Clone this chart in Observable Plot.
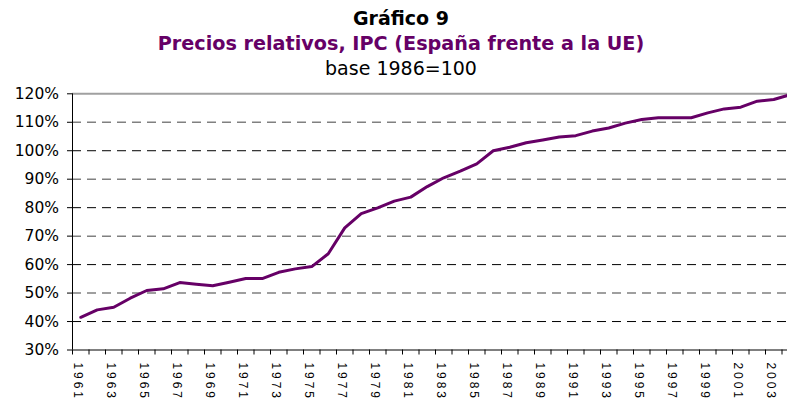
<!DOCTYPE html>
<html>
<head>
<meta charset="utf-8">
<script src="https://cdn.jsdelivr.net/npm/d3@7"></script>
<script src="https://cdn.jsdelivr.net/npm/@observablehq/plot@0.6"></script>
<style>
  html, body { margin: 0; padding: 0; background: #fff; }
  #wrap { position: relative; width: 787px; height: 403px; overflow: hidden; background: #fff; }
  .hdr { position: absolute; left: 7.5px; width: 787px; text-align: center; font-family: "DejaVu Sans", sans-serif; white-space: nowrap; line-height: 26px; }
  #t1 { top: 5px; font-size: 19px; font-weight: bold; color: #000; }
  #t2 { top: 31px; font-size: 19.2px; font-weight: bold; color: #660066; }
  #t3 { top: 55px; font-size: 19px; color: #000; }
  #chart { position: absolute; left: 0; top: 80px; width: 787px; height: 323px; overflow: hidden; }
</style>
</head>
<body>
<div id="wrap">
  <div class="hdr" id="t1">Gráfico 9</div>
  <div class="hdr" id="t2">Precios relativos, IPC (España frente a la UE)</div>
  <div class="hdr" id="t3">base 1986=100</div>
  <div id="chart"></div>
</div>
<script>
const years = [1961,1962,1963,1964,1965,1966,1967,1968,1969,1970,1971,1972,1973,1974,1975,1976,1977,1978,1979,1980,1981,1982,1983,1984,1985,1986,1987,1988,1989,1990,1991,1992,1993,1994,1995,1996,1997,1998,1999,2000,2001,2002,2003,2004];
const values = [41.5,44.1,45.0,48.2,50.9,51.5,53.7,53.1,52.6,53.8,55.1,55.1,57.3,58.5,59.3,63.8,72.9,77.9,79.9,82.3,83.7,87.4,90.5,92.8,95.4,100.0,101.2,102.8,103.8,104.8,105.3,106.9,108.0,109.7,111.0,111.6,111.6,111.6,113.3,114.7,115.3,117.4,118.0,119.7];
const xLabels = [1961,1963,1965,1967,1969,1971,1973,1975,1977,1979,1981,1983,1985,1987,1989,1991,1993,1995,1997,1999,2001,2003];
const yTicks = [30,40,50,60,70,80,90,100,110,120];
const gridDark = [40,60,80,100];
const gridGray = [50,70,90,110];

const data = years.map((y, i) => ({year: y, value: values[i]}));
const bounds = years.map(y => y - 0.5).concat([years[years.length - 1] + 0.5]);

const chart = Plot.plot({
  width: 787,
  height: 323,
  marginLeft: 72,
  marginRight: 0,
  marginTop: 13.3,
  marginBottom: 53.5,
  style: {background: "#fff", overflow: "hidden"},
  x: {type: "linear", domain: [1960.5, 2004.5], range: [72, 798], axis: null, label: null},
  y: {domain: [30, 120], axis: null, label: null},
  marks: [
    Plot.ruleY(gridGray, {stroke: "#808080", strokeWidth: 1.5, strokeDasharray: "9,6"}),
    Plot.ruleY(gridDark, {stroke: "#000", strokeWidth: 1, strokeDasharray: "9,6"}),
    Plot.ruleY([120], {stroke: "#a0a0a0", strokeWidth: 2}),
    Plot.axisY(yTicks, {
      label: null,
      tickSize: 5, tickPadding: 8.5, tickFormat: d => d + "%",
      fontSize: 15.5, fontFamily: "DejaVu Sans", color: "#000", stroke: "#000"
    }),
    Plot.axisX(bounds, {label: null, tickSize: 5, tickFormat: () => "", stroke: "#000"}),
    Plot.axisX(xLabels, {
      label: null,
      tickSize: 0, tickPadding: 12.5, tickRotate: 90, dx: -3,
      tickFormat: d => String(d),
      fontSize: 12, fontFamily: "Liberation Sans", color: "#000"
    }),
    Plot.ruleX([1960.5], {y1: 30, y2: 120, stroke: "#000", strokeWidth: 1}),
    Plot.ruleY([30], {stroke: "#000", strokeWidth: 1}),
    Plot.line(data, {x: "year", y: "value", stroke: "#660066", strokeWidth: 3, clip: true})
  ]
});
document.getElementById("chart").appendChild(chart);
chart.querySelectorAll("text").forEach(t => {
  if (t.getAttribute("transform") && t.getAttribute("transform").includes("rotate")) {
    t.style.letterSpacing = "2.9px";
  }
});
</script>
</body>
</html>
